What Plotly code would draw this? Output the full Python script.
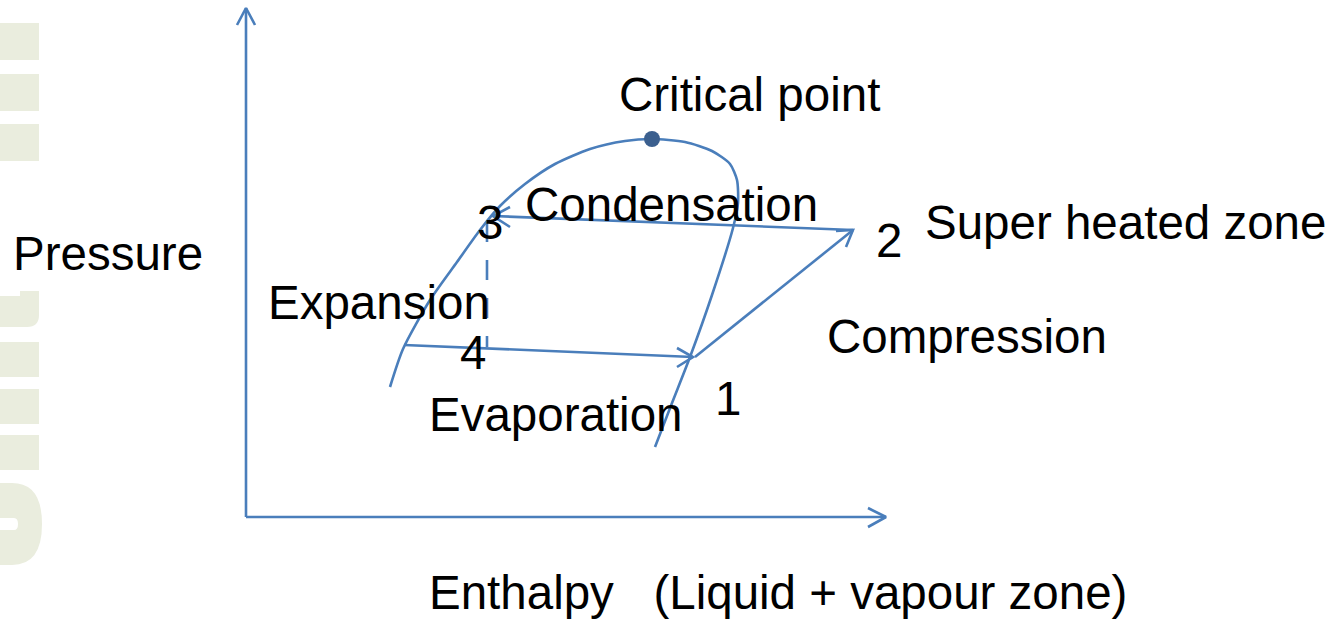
import plotly.graph_objects as go

W, H = 1331, 619
LINE = "#4A7EBB"
DOT = "#3B5F8E"
WM = "rgb(234,237,222)"
FONT = "Liberation Sans, Arial, sans-serif"
FS = 47.5

# saturation dome (pixel-space coordinates)
dome_x = [390, 403, 430, 457, 480, 500, 525, 555, 590, 625, 652, 685, 712, 730, 737, 738, 733, 712, 690, 672, 655]
dome_y = [387, 349, 300, 262, 230, 206, 184, 164, 149, 141, 139, 142, 151, 164, 180, 203, 228, 295, 357, 403, 447]

critical_point = (652, 139)

# cycle segments: (x list, y list)
evap_x, evap_y = [404, 693], [345, 357]
cond_x, cond_y = [853, 493], [230, 216]
comp_x, comp_y = [695, 853], [357, 230]
expa_x, expa_y = [487, 487], [222, 347]
yaxis_x, yaxis_y = [246, 246], [517, 8]
xaxis_x, xaxis_y = [246, 886], [517, 517]

# arrow heads: wing - tip - wing
heads = [
    ([677, 693, 677], [348, 357, 367]),
    ([510, 493, 510], [207, 216, 227]),
    ([836, 853, 846], [231, 230, 247]),
    ([237, 246, 255], [25, 8, 25]),
    ([868, 886, 868], [508, 517, 527]),
]

labels = ["Critical point", "Condensation", "3", "2", "Super heated zone", "Pressure",
          "Expansion", "4", "Compression", "Evaporation", "1",
          "Enthalpy   (Liquid + vapour zone)"]
label_x = [617, 523, 475, 874, 923, 11, 266, 458, 825, 427, 713, 427]
label_y = [94, 204, 222, 240, 222, 253, 302, 352, 336, 414, 398, 592]

fig = go.Figure()

line = dict(color=LINE, width=2.6)
fig.add_trace(go.Scatter(x=dome_x, y=dome_y, mode="lines",
                         line=dict(color=LINE, width=2.6, shape="spline", smoothing=0.7)))
for xs, ys in [(evap_x, evap_y), (cond_x, cond_y), (comp_x, comp_y), (yaxis_x, yaxis_y), (xaxis_x, xaxis_y)]:
    fig.add_trace(go.Scatter(x=xs, y=ys, mode="lines", line=line))
fig.add_trace(go.Scatter(x=expa_x, y=expa_y, mode="lines", line=dict(color=LINE, width=2.6, dash="20px,18px")))
for xs, ys in heads:
    fig.add_trace(go.Scatter(x=xs, y=ys, mode="lines", line=line))
fig.add_trace(go.Scatter(x=[critical_point[0]], y=[critical_point[1]], mode="markers",
                         marker=dict(color=DOT, size=16, line=dict(width=0))))

# watermark blocks on the left edge
shapes = []
for y0, y1 in [(23, 60), (74, 111), (124, 161), (342, 377), (389, 424), (435, 470)]:
    shapes.append(dict(type="rect", x0=0, x1=39, y0=y0, y1=y1, fillcolor=WM, line=dict(width=0), layer="below"))
shapes.append(dict(type="path", path="M 0 296 L 20 296 L 20 291 L 39 291 L 39 315 Q 39 327 27 327 L 0 327 Z",
                   fillcolor=WM, line=dict(width=0), layer="below"))
shapes.append(dict(type="path",
                   path="M 0 483 L 12 483 Q 42 483 42 524 Q 42 565 12 565 L 0 565 L 0 530 L 14 530 Q 18 530 18 524 Q 18 518 14 518 L 0 518 Z",
                   fillcolor=WM, line=dict(width=0), layer="below"))

for t, x, y in zip(labels, label_x, label_y):
    fig.add_annotation(x=x, y=y, text=t, showarrow=False, xanchor="left", yanchor="middle",
                       font=dict(family=FONT, size=FS, color="black"))

fig.update_layout(
    width=W, height=H, margin=dict(l=0, r=0, t=0, b=0),
    paper_bgcolor="white", plot_bgcolor="white", showlegend=False, shapes=shapes,
    xaxis=dict(range=[0, W], visible=False, fixedrange=True),
    yaxis=dict(range=[H, 0], visible=False, fixedrange=True),
)
fig.write_html("out.html", config={"displayModeBar": False},
               post_script="document.body.style.margin='0';document.body.style.overflow='hidden';")
